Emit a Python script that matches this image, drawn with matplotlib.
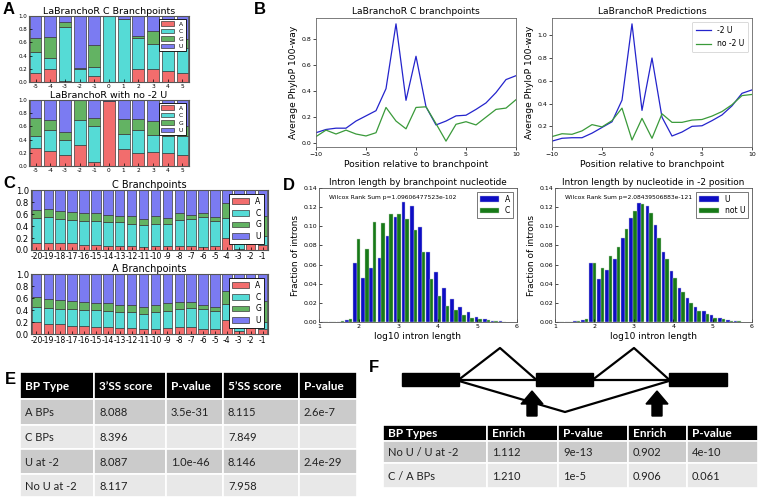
import matplotlib
matplotlib.use('Agg')
import matplotlib.pyplot as plt
from matplotlib.patches import Rectangle, Polygon
import numpy as np

plt.rcParams['font.family'] = ['DejaVu Sans']

# ---------------- data ----------------
nucs = ['A', 'C', 'G', 'U']
nuc_colors = ['#f26d6d', '#55dbd6', '#63b363', '#7b7bf2']

# Panel A: positions -5..5
A_pos = [-5, -4, -3, -2, -1, 0, 1, 2, 3, 4, 5]
A_pos_labels = ['-5', '-4', '-3', '-2', '-1', '0', '1', '2', '3', '4', '5']
A_top = {
    'A': [0.14, 0.20, 0.02, 0.00, 0.09, 0.00, 0.00, 0.20, 0.20, 0.17, 0.13],
    'C': [0.32, 0.16, 0.81, 0.20, 0.14, 1.00, 0.95, 0.46, 0.38, 0.33, 0.39],
    'G': [0.20, 0.32, 0.08, 0.01, 0.33, 0.00, 0.00, 0.04, 0.19, 0.18, 0.13],
    'U': [0.34, 0.32, 0.09, 0.79, 0.44, 0.00, 0.05, 0.30, 0.23, 0.32, 0.35],
}
A_bot = {
    'A': [0.27, 0.22, 0.17, 0.32, 0.06, 0.98, 0.26, 0.20, 0.21, 0.20, 0.17],
    'C': [0.18, 0.32, 0.23, 0.37, 0.54, 0.00, 0.23, 0.34, 0.26, 0.25, 0.28],
    'G': [0.28, 0.16, 0.11, 0.31, 0.12, 0.00, 0.22, 0.17, 0.21, 0.19, 0.15],
    'U': [0.27, 0.30, 0.49, 0.00, 0.28, 0.02, 0.29, 0.29, 0.32, 0.36, 0.40],
}

# Panel B: positions -10..10
B_pos = [-10, -9, -8, -7, -6, -5, -4, -3, -2, -1, 0, 1, 2, 3, 4, 5, 6, 7, 8, 9, 10]
B_left_u = [0.08, 0.105, 0.115, 0.115, 0.17, 0.21, 0.25, 0.42, 0.92, 0.33, 0.67,
            0.28, 0.14, 0.17, 0.21, 0.215, 0.26, 0.31, 0.39, 0.49, 0.52]
B_left_nou = [0.05, 0.10, 0.07, 0.10, 0.07, 0.055, 0.08, 0.275, 0.17, 0.11, 0.275,
              0.28, 0.15, 0.015, 0.145, 0.165, 0.14, 0.20, 0.26, 0.27, 0.335]
B_right_u = [0.07, 0.095, 0.10, 0.10, 0.14, 0.19, 0.24, 0.43, 1.10, 0.34, 0.80,
             0.28, 0.115, 0.15, 0.20, 0.205, 0.25, 0.30, 0.38, 0.49, 0.52]
B_right_nou = [0.11, 0.135, 0.13, 0.16, 0.215, 0.195, 0.25, 0.36, 0.08, 0.27, 0.095,
               0.31, 0.235, 0.235, 0.255, 0.26, 0.29, 0.33, 0.39, 0.47, 0.48]

# Panel C: positions -20..-1
C_pos = [-20, -19, -18, -17, -16, -15, -14, -13, -12, -11, -10, -9, -8, -7, -6, -5, -4, -3, -2, -1]
C_pos_labels = ['-20', '-19', '-18', '-17', '-16', '-15', '-14', '-13', '-12', '-11',
                '-10', '-9', '-8', '-7', '-6', '-5', '-4', '-3', '-2', '-1']
C_top = {
    'A': [0.11, 0.12, 0.12, 0.11, 0.09, 0.09, 0.07, 0.07, 0.06, 0.05, 0.06, 0.06, 0.07, 0.07, 0.05, 0.07, 0.20, 0.02, 0.10, 0.09],
    'C': [0.42, 0.43, 0.39, 0.39, 0.39, 0.40, 0.40, 0.39, 0.38, 0.36, 0.38, 0.37, 0.43, 0.44, 0.50, 0.41, 0.34, 0.81, 0.10, 0.14],
    'G': [0.14, 0.13, 0.14, 0.14, 0.14, 0.13, 0.12, 0.11, 0.12, 0.11, 0.13, 0.11, 0.12, 0.08, 0.07, 0.07, 0.25, 0.08, 0.05, 0.33],
    'U': [0.33, 0.32, 0.35, 0.36, 0.38, 0.38, 0.41, 0.43, 0.44, 0.48, 0.43, 0.46, 0.38, 0.41, 0.38, 0.45, 0.21, 0.09, 0.75, 0.44],
}
C_bot = {
    'A': [0.20, 0.17, 0.16, 0.14, 0.13, 0.12, 0.11, 0.10, 0.10, 0.09, 0.09, 0.10, 0.11, 0.12, 0.09, 0.09, 0.24, 0.05, 0.15, 0.08],
    'C': [0.25, 0.27, 0.26, 0.27, 0.27, 0.28, 0.28, 0.27, 0.27, 0.24, 0.28, 0.29, 0.31, 0.31, 0.33, 0.29, 0.26, 0.07, 0.10, 0.12],
    'G': [0.16, 0.15, 0.15, 0.14, 0.14, 0.12, 0.13, 0.12, 0.11, 0.12, 0.11, 0.12, 0.11, 0.11, 0.07, 0.07, 0.21, 0.08, 0.05, 0.35],
    'U': [0.39, 0.41, 0.43, 0.45, 0.46, 0.48, 0.48, 0.51, 0.52, 0.55, 0.52, 0.49, 0.47, 0.46, 0.51, 0.55, 0.29, 0.80, 0.70, 0.45],
}

# Panel D: histogram bins of log10 intron length
D_bins = [1.14, 1.34, 1.55, 1.75, 1.955, 2.16, 2.36, 2.57, 2.77, 2.98, 3.18, 3.39,
          3.59, 3.80, 4.00, 4.20, 4.41, 4.61, 4.82, 5.02, 5.23, 5.43, 5.63]
D_A = [0.0005, 0.0002, 0.0005, 0.002, 0.062, 0.046, 0.056, 0.067, 0.090, 0.110, 0.125, 0.121,
       0.099, 0.073, 0.052, 0.036, 0.024, 0.016, 0.010, 0.0055, 0.003, 0.0015, 0.0008]
D_C = [0.0, 0.0002, 0.001, 0.003, 0.087, 0.076, 0.104, 0.103, 0.113, 0.113, 0.108, 0.096,
       0.073, 0.045, 0.027, 0.017, 0.013, 0.0075, 0.004, 0.003, 0.002, 0.001, 0.0003]
D_U = [0.0003, 0.0002, 0.0008, 0.002, 0.062, 0.045, 0.054, 0.066, 0.088, 0.109, 0.124, 0.121,
       0.101, 0.073, 0.053, 0.036, 0.025, 0.016, 0.011, 0.007, 0.004, 0.002, 0.001]
D_notU = [0.0002, 0.0002, 0.001, 0.003, 0.062, 0.056, 0.069, 0.078, 0.097, 0.116, 0.123, 0.114,
          0.088, 0.066, 0.046, 0.031, 0.020, 0.012, 0.008, 0.0045, 0.003, 0.0015, 0.0007]

# Tables
E_cols = ['BP Type', '3\u2019SS score', 'P-value', '5\u2019SS score', 'P-value']
E_rows = [['A BPs', '8.088', '3.5e-31', '8.115', '2.6e-7'],
          ['C BPs', '8.396', '', '7.849', ''],
          ['U at -2', '8.087', '1.0e-46', '8.146', '2.4e-29'],
          ['No U at -2', '8.117', '', '7.958', '']]
F_cols = ['BP Types', 'Enrich', 'P-value', 'Enrich', 'P-value']
F_rows = [['No U / U at -2', '1.112', '9e-13', '0.902', '4e-10'],
          ['C / A BPs', '1.210', '1e-5', '0.906', '0.061']]

# ---------------- figure ----------------
W, H = 762, 497
fig = plt.figure(figsize=(W / 100, H / 100), dpi=100)


def px_axes(x0, y0, x1, y1):
    return fig.add_axes([x0 / W, 1 - y1 / H, (x1 - x0) / W, (y1 - y0) / H])


def stacked(ax, pos, labels, d, title, xfs, yfs, tfs, legfs):
    bottom = np.zeros(len(pos))
    for n, c in zip(nucs, nuc_colors):
        ax.bar(pos, d[n], 0.8, bottom=bottom, color=c, edgecolor='#3a3a3a',
               linewidth=0.5, label=n)
        bottom = bottom + np.array(d[n])
    ax.set_xlim(pos[0] - 0.45, pos[-1] + 0.45)
    ax.set_ylim(0, 1)
    ax.set_yticks([0, 0.2, 0.4, 0.6, 0.8, 1.0])
    ax.set_yticklabels(['0.0', '0.2', '0.4', '0.6', '0.8', '1.0'])
    ax.set_xticks(pos)
    ax.set_xticklabels(labels)
    ax.tick_params(axis='x', labelsize=xfs, length=2, width=0.5, pad=1.5, direction='in')
    ax.tick_params(axis='y', labelsize=yfs, length=2, width=0.5, pad=1.5, direction='in')
    for s in ax.spines.values():
        s.set_color('#555555')
        s.set_linewidth(0.8)
    ax.set_title(title, fontsize=tfs, pad=1.5)
    leg = ax.legend(loc='upper right', fontsize=legfs, handlelength=2.2,
                    handleheight=0.8, borderpad=0.4, labelspacing=0.35,
                    fancybox=False, framealpha=1, edgecolor='black')
    leg.get_frame().set_linewidth(0.6)


# Panel A
axA1 = px_axes(29, 16, 189, 82)
stacked(axA1, A_pos, A_pos_labels, A_top, 'LaBranchoR C Branchpoints', 4.2, 4.0, 6.8, 4.3)
axA2 = px_axes(29, 100, 189, 166)
stacked(axA2, A_pos, A_pos_labels, A_bot, 'LaBranchoR with no -2 U', 4.2, 4.0, 6.8, 4.3)

# Panel C
axC1 = px_axes(31, 190, 268, 250)
stacked(axC1, C_pos, C_pos_labels, C_top, 'C Branchpoints', 5.5, 6, 7, 5.5)
axC2 = px_axes(31, 274, 268, 334)
stacked(axC2, C_pos, C_pos_labels, C_bot, 'A Branchpoints', 5.5, 6, 7, 5.5)

# Panel B
blue_line = '#2424cc'
green_line = '#3a9a3a'
for (x0, x1), yu, yn, title, leg in [((316, 516), B_left_u, B_left_nou, 'LaBranchoR C branchpoints', False),
                                      ((552, 752), B_right_u, B_right_nou, 'LaBranchoR Predictions', True)]:
    ax = px_axes(x0, 18, x1, 147)
    ax.plot(B_pos, yu, color=blue_line, lw=0.9, label='-2 U')
    ax.plot(B_pos, yn, color=green_line, lw=0.9, label='no -2 U')
    ax.set_xlim(-10, 10)
    ax.set_xticks([-10, -5, 0, 5, 10])
    ax.tick_params(labelsize=4.5, length=2, width=0.5, pad=1.5)
    for s in ax.spines.values():
        s.set_color('#666666')
        s.set_linewidth(0.6)
    ax.set_title(title, fontsize=6.6, pad=3)
    ax.set_xlabel('Position relative to branchpoint', fontsize=6.6, labelpad=2)
    ax.set_ylabel('Average PhyloP 100-way', fontsize=6.6, labelpad=2)
    if leg:
        lg = ax.legend(loc='upper right', fontsize=5.5, handlelength=2.0, borderpad=0.5,
                       labelspacing=0.6, framealpha=1, edgecolor='#cccccc')
        lg.get_frame().set_linewidth(0.5)

# Panel D
d_blue = '#0d0dc4'
d_green = '#177a17'
bw = 0.09
for (x0, x1), ya, yb, la, lb, title, ptxt in [
        ((319, 517), D_A, D_C, 'A', 'C', 'Intron length by branchpoint nucleotide',
         'Wilcox Rank Sum p=1.09606477523e-102'),
        ((555, 752), D_U, D_notU, 'U', 'not U', 'Intron length by nucleotide in -2 position',
         'Wilcox Rank Sum p=2.08439506883e-121')]:
    ax = px_axes(x0, 188, x1, 322)
    ctr = np.array(D_bins)
    ax.bar(ctr - bw / 2, ya, bw, color=d_blue, edgecolor='#b8b8d8', linewidth=0.3, label=la)
    ax.bar(ctr + bw / 2, yb, bw, color=d_green, edgecolor='#b8d0b8', linewidth=0.3, label=lb)
    ax.set_xlim(1, 6)
    ax.set_ylim(0, 0.14)
    ax.set_yticks([0, 0.02, 0.04, 0.06, 0.08, 0.10, 0.12, 0.14])
    ax.set_yticklabels(['0.00', '0.02', '0.04', '0.06', '0.08', '0.10', '0.12', '0.14'])
    ax.set_xticks([1, 2, 3, 4, 5, 6])
    ax.tick_params(labelsize=4.5, length=2, width=0.5, pad=1.5, direction='in')
    for s in ax.spines.values():
        s.set_color('#555555')
        s.set_linewidth(0.6)
    ax.set_title(title, fontsize=6.4, pad=2)
    ax.set_xlabel('log10 intron length', fontsize=6.5, labelpad=2)
    ax.set_ylabel('Fraction of introns', fontsize=6.4, labelpad=2)
    ax.text(0.05, 0.93, ptxt, transform=ax.transAxes, fontsize=4.3, va='center')
    lg = ax.legend(loc='upper right', fontsize=5.5, handlelength=2.5, handleheight=0.8,
                   borderpad=0.4, labelspacing=0.3, fancybox=False, framealpha=1,
                   edgecolor='#444444')
    lg.get_frame().set_linewidth(0.5)

# Overlay for tables, diagram and panel letters
ov = fig.add_axes([0, 0, 1, 1])
ov.set_xlim(0, W)
ov.set_ylim(H, 0)
ov.axis('off')

tfont = ['Lato', 'DejaVu Sans']


def draw_table(cols, rows, xedges, yedges, row_colors, fs_head, fs_body):
    for j, c in enumerate(cols):
        ov.add_patch(Rectangle((xedges[j], yedges[0]), xedges[j + 1] - xedges[j],
                               yedges[1] - yedges[0], facecolor='black',
                               edgecolor='white', linewidth=1.2))
        ov.text(xedges[j] + 5, (yedges[0] + yedges[1]) / 2 + 0.5, c, color='white',
                fontsize=fs_head, fontweight='bold', family=tfont, va='center', ha='left')
    for i, r in enumerate(rows):
        for j, v in enumerate(r):
            ov.add_patch(Rectangle((xedges[j], yedges[i + 1]), xedges[j + 1] - xedges[j],
                                   yedges[i + 2] - yedges[i + 1], facecolor=row_colors[i % 2],
                                   edgecolor='white', linewidth=1.2))
            ov.text(xedges[j] + 5, (yedges[i + 1] + yedges[i + 2]) / 2 + 0.5, v,
                    color='#222222', fontsize=fs_body, family=tfont, va='center', ha='left')


draw_table(E_cols, E_rows, [20, 94, 166, 223, 299, 357],
           [372, 399, 425, 449, 474, 497], ['#cbcbcb', '#e8e8e8'], 8.5, 8)
draw_table(F_cols, F_rows, [383, 487, 558, 628, 687, 758],
           [425, 441, 463, 488], ['#cbcbcb', '#e8e8e8'], 8.5, 8)

# Panel F diagram
exons = [(402, 459), (536, 593), (669, 727)]
for a, b in exons:
    ov.add_patch(Rectangle((a, 373), b - a, 13, facecolor='black', edgecolor='black', zorder=3))
ym = 379.5
ov.plot([459, 536], [ym, ym], color='black', lw=1.6)
ov.plot([593, 669], [ym, ym], color='black', lw=1.6)
ov.plot([459, 500, 536], [ym, 348, ym], color='black', lw=1.6)
ov.plot([593, 634, 669], [ym, 348, ym], color='black', lw=1.6)
ov.plot([459, 565, 669], [381, 412, 381], color='black', lw=1.6)
for ax_x in [532, 657]:
    ov.add_patch(Polygon([(ax_x - 5, 416), (ax_x + 5, 416), (ax_x + 5, 404), (ax_x + 11, 404),
                          (ax_x, 391), (ax_x - 11, 404), (ax_x - 5, 404)],
                         closed=True, facecolor='black', edgecolor='black'))

# Panel letters
for lab, x, y in [('A', 3, 9), ('B', 254, 9), ('C', 3, 184), ('D', 283, 186),
                  ('E', 5, 379), ('F', 369, 368)]:
    ov.text(x, y, lab, fontsize=12, fontweight='bold', family=['Liberation Sans', 'DejaVu Sans'],
            va='center', ha='left')

fig.savefig('out.png', dpi=100)
